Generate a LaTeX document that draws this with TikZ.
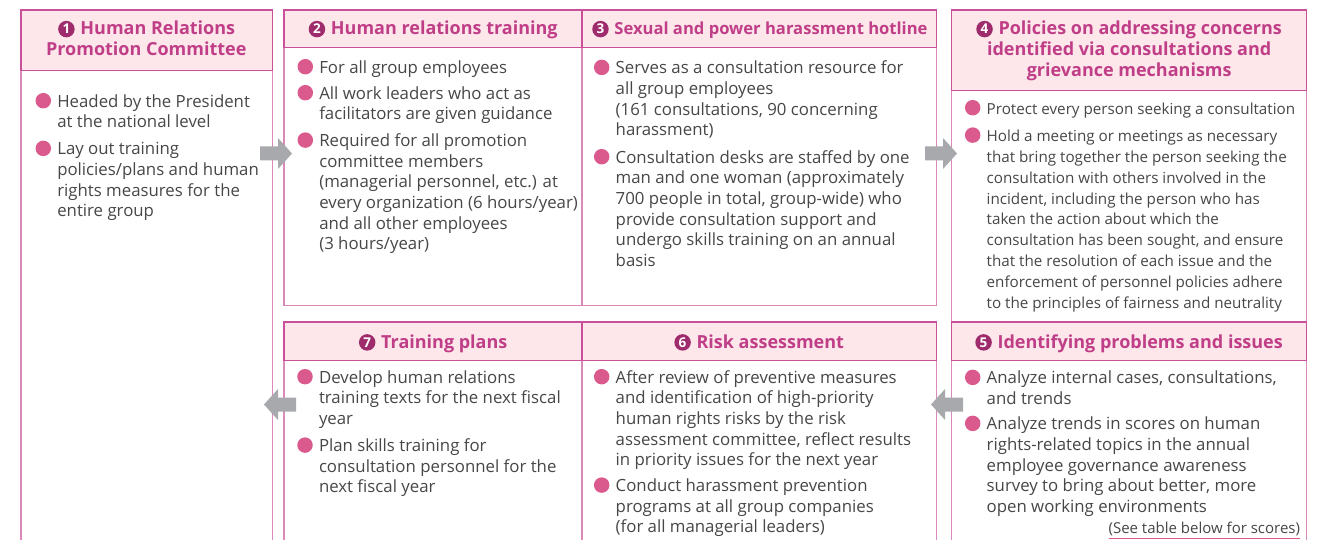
\documentclass[tikz,border=0pt]{standalone}
\usepackage{fontspec}
\setmainfont{Open Sans}
\usetikzlibrary{calc}
\definecolor{hdrfill}{HTML}{FDE7EA}
\definecolor{hdrline}{HTML}{C8519A}
\definecolor{bodyline}{HTML}{D98ABB}
\definecolor{ttlcol}{HTML}{C03E88}
\definecolor{numcol}{HTML}{9E2B6C}
\definecolor{txt}{HTML}{474747}
\definecolor{dotcol}{HTML}{DB5A8E}
\definecolor{arrgray}{HTML}{A7A9AC}
\newcommand\bodysize{\fontsize{16.8}{20.65}\selectfont}
\newcommand\smallbody{\fontsize{15.2}{20.8}\selectfont}
\newcommand\notesize{\fontsize{15}{18}\selectfont}
\newcommand\ttlsize{\fontsize{18}{20.75}\selectfont\bfseries}
\newcommand\ttlsizeS{\fontsize{16.6}{20.75}\selectfont\bfseries}
\newcommand\bitem[5][]{%
  \node[itemtext,#1] (#2) at (#3,#4-14.5) {\strut#5};
  \node[dot] (#2d) at (#3-14,#4-6.6) {};}
% title line with number disc: name, number, x-center of whole line, baseline, text
\newcommand\ttlnum[6][]{%
  \node[ttl,#1] (#2) at (#4+11,#5) {#6};
  \node[numdisc] (#2n) at ([xshift=-14pt,yshift=5.9pt]#2.base west) {#3};}
\tikzset{
  hdr/.style={draw=hdrline, fill=hdrfill, line width=1.1pt, inner sep=0pt, outer sep=0pt, anchor=north west},
  bodybox/.style={draw=bodyline, line width=1.1pt, inner sep=0pt, outer sep=0pt, anchor=north west},
  itemtext/.style={text=txt, font=\bodysize, align=left, inner sep=0pt, outer sep=0pt, anchor=north west},
  dot/.style={circle, fill=dotcol, minimum size=15.5pt, inner sep=0pt},
  numdisc/.style={circle, fill=numcol, text=white, minimum size=16.5pt, inner sep=0pt, outer sep=0pt, font=\fontsize{13.5}{14}\selectfont\bfseries},
  ttl/.style={text=ttlcol, font=\ttlsize, inner sep=0pt, outer sep=0pt, anchor=base},
  rarr/.pic={\fill[arrgray] (-18,-7) -- (0,-7) -- (0,-15.5) -- (14,0) -- (0,15.5) -- (0,7) -- (-18,7) -- cycle;},
  larr/.pic={\fill[arrgray] (18,-7) -- (0,-7) -- (0,-15.5) -- (-14,0) -- (0,15.5) -- (0,7) -- (18,7) -- cycle;}
}
\begin{document}
\begin{tikzpicture}[x=1pt,y=-1pt]
\useasboundingbox (0,0) rectangle (1323,540);
\clip (0,0) rectangle (1323,540);
\fill[white] (0,0) rectangle (1323,540);
% bodies
\node[bodybox, minimum width=251.7pt, minimum height=490pt] (b1) at (21,70.3) {};
\node[bodybox, minimum width=298pt, minimum height=258pt] (b2) at (284,47.3) {};
\node[bodybox, minimum width=354.7pt, minimum height=258pt] (b3) at (582,47.3) {};
\node[bodybox, minimum width=355pt, minimum height=231.3pt] (b4) at (951.7,90.7) {};
\node[bodybox, minimum width=355pt, minimum height=200pt] (b5) at (951.7,360.7) {};
\node[bodybox, minimum width=354.7pt, minimum height=200pt] (b6) at (582,360.7) {};
\node[bodybox, minimum width=298pt, minimum height=200pt] (b7) at (284,360.7) {};
% headers
\node[hdr, minimum width=251.7pt, minimum height=60.3pt] (h1) at (21,10) {};
\node[hdr, minimum width=298pt, minimum height=37.3pt] (h2) at (284,10) {};
\node[hdr, minimum width=354.7pt, minimum height=37.3pt] (h3) at (582,10) {};
\node[hdr, minimum width=355pt, minimum height=80.7pt] (h4) at (951.7,10) {};
\node[hdr, minimum width=355pt, minimum height=38.7pt] (h5) at (951.7,322) {};
\node[hdr, minimum width=354.7pt, minimum height=38.7pt] (h6) at (582,322) {};
\node[hdr, minimum width=298pt, minimum height=38.7pt] (h7) at (284,322) {};
% titles
\ttlnum{t1}{1}{146.8}{35}{Human Relations}
\node[ttl] (t1b) at (146.3,55.3) {Promotion Committee};
\ttlnum{t2}{2}{433.3}{35}{Human relations training}
\ttlnum[font=\ttlsizeS]{t3}{3}{760}{35}{Sexual and power harassment hotline}
\ttlnum{t4}{4}{1129.2}{35}{Policies on addressing concerns}
\node[ttl] (t4b) at (1129.2,55.8) {identified via consultations and};
\node[ttl] (t4c) at (1129.2,76.6) {grievance mechanisms};
\ttlnum{t5}{5}{1129.2}{348.3}{Identifying problems and issues}
\ttlnum{t6}{6}{759.3}{348.3}{Risk assessment}
\ttlnum{t7}{7}{433.3}{348.3}{Training plans}
% box 1
\bitem{i1a}{57.3}{107.3}{Headed by the President\\at the national level}
\bitem{i1b}{57.3}{155}{Lay out training\\policies/plans and human\\rights measures for the\\entire group}
% box 2
\bitem{i2a}{319.3}{73.3}{For all group employees}
\bitem{i2b}{319.3}{99.3}{All work leaders who act as\\facilitators are given guidance}
\bitem{i2c}{319.3}{146.7}{Required for all promotion\\committee members\\(managerial personnel, etc.) at\\every organization (6 hours/year)\\and all other employees\\(3 hours/year)}
% box 3
\bitem{i3a}{615.7}{74}{Serves as a consultation resource for\\all group employees\\(161 consultations, 90 concerning\\harassment)}
\bitem{i3b}{615.7}{163.3}{Consultation desks are staffed by one\\man and one woman (approximately\\700 people in total, group-wide) who\\provide consultation support and\\undergo skills training on an annual\\basis}
% box 4
\bitem[font=\smallbody]{i4a}{986.7}{114.3}{Protect every person seeking a consultation}
\bitem[font=\smallbody]{i4b}{986.7}{141.7}{Hold a meeting or meetings as necessary\\that bring together the person seeking the\\consultation with others involved in the\\incident, including the person who has\\taken the action about which the\\consultation has been sought, and ensure\\that the resolution of each issue and the\\enforcement of personnel policies adhere\\to the principles of fairness and neutrality}
% box 5
\bitem{i5a}{986.7}{384}{Analyze internal cases, consultations,\\and trends}
\bitem{i5b}{986.7}{430}{Analyze trends in scores on human\\rights-related topics in the annual\\employee governance awareness\\survey to bring about better, more\\open working environments}
\node[text=txt, font=\notesize, inner sep=0pt, outer sep=0pt, anchor=base east] (n5) at (1300,533) {(See table below for scores)};
\draw[dotcol, line width=1.5pt] ([yshift=-5.5pt]n5.base west) -- ([yshift=-5.5pt]n5.base east);
% box 6
\bitem{i6a}{615.7}{383.3}{After review of preventive measures\\and identification of high-priority\\human rights risks by the risk\\assessment committee, reflect results\\in priority issues for the next year}
\bitem{i6b}{615.7}{491.7}{Conduct harassment prevention\\programs at all group companies\\(for all managerial leaders)}
% box 7
\bitem{i7a}{319}{383.3}{Develop human relations\\training texts for the next fiscal\\year}
\bitem{i7b}{319}{451.7}{Plan skills training for\\consultation personnel for the\\next fiscal year}
% arrows
\coordinate (a12) at (278,153.5);
\coordinate (a34) at (943,153.5);
\coordinate (a56) at (945,404.5);
\coordinate (a71) at (278,404.5);
\pic at (a12) {rarr};
\pic at (a34) {rarr};
\pic at (a56) {larr};
\pic at (a71) {larr};
\end{tikzpicture}
\end{document}
